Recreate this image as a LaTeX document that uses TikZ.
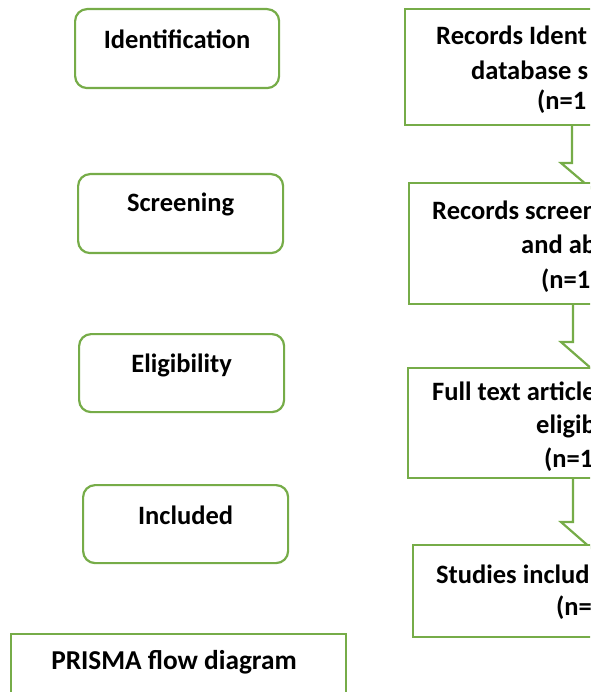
\documentclass[tikz,border=0pt]{standalone}
\usepackage{fontspec}
\setmainfont{Carlito}
\definecolor{boxgreen}{RGB}{118,172,72}
\begin{document}
\begin{tikzpicture}[x=1pt,y=-1pt,
  lbl/.style={font=\fontsize{26.5}{30}\selectfont\bfseries, inner sep=0pt, text=black},
  stagebox/.style={draw=boxgreen, line width=2.2pt, rounded corners=12pt, fill=white, inner sep=0pt, anchor=north west},
  flowbox/.style={draw=boxgreen, line width=2.2pt, fill=white, inner sep=0pt, anchor=north west},
  blockarrow/.style={draw=boxgreen, line width=2.2pt, fill=white, line join=miter}
]
\useasboundingbox (0,0) rectangle (590,692);
\clip (0,0) rectangle (590,692);

% left stage boxes
\node[stagebox, minimum width=204pt, minimum height=79pt] (sId) at (74,8) {};
\node[stagebox, minimum width=205pt, minimum height=79pt] (sSc) at (77,173) {};
\node[stagebox, minimum width=205pt, minimum height=78pt] (sEl) at (78,333) {};
\node[stagebox, minimum width=205pt, minimum height=78pt] (sIn) at (82,484) {};
\node[lbl, anchor=base] (tId) at ([yshift=-41pt]sId.north) {Identification};
\node[lbl, anchor=base] (tSc) at ([yshift=-39pt]sSc.north) {Screening};
\node[lbl, anchor=base] (tEl) at ([yshift=-39pt]sEl.north) {Eligibility};
\node[lbl, anchor=base] (tIn) at ([yshift=-40pt]sIn.north) {Included};

% PRISMA label box
\node[flowbox, minimum width=335pt, minimum height=80pt] (pr) at (10,633) {};
\node[lbl, anchor=base, font=\fontsize{27.3}{30}\selectfont\bfseries] (tPr) at (174,669) {PRISMA flow diagram};

% block arrows (drawn behind the right boxes)
\coordinate (a1) at (572,120);
\draw[blockarrow] (a1) -- (572,163) -- (561,163) -- (601,197) -- (641,163) -- (630,163) -- (630,120);
\coordinate (a2) at (573,299);
\draw[blockarrow] (a2) -- (573,342) -- (561,342) -- (601,377) -- (641,342) -- (630,342) -- (630,299);
\coordinate (a3) at (573,473);
\draw[blockarrow] (a3) -- (573,522) -- (561,522) -- (601,557) -- (641,522) -- (630,522) -- (630,473);

% right flow boxes
\node[flowbox, minimum width=300pt, minimum height=116pt] (b1) at (404,8) {};
\node[flowbox, minimum width=300pt, minimum height=121pt] (b2) at (408,182) {};
\node[flowbox, minimum width=300pt, minimum height=110pt] (b3) at (407,367) {};
\node[flowbox, minimum width=300pt, minimum height=92pt] (b4) at (412,544) {};

% right box texts (cut at the picture edge)
\node[lbl, anchor=base west] (b1l1) at (436,45) {Records Ident};
\node[lbl, anchor=base west] (b1l2) at (471,80) {database s};
\node[lbl, anchor=base west] (b1l3) at (537,110) {(n=1};
\node[lbl, anchor=base west] (b2l1) at (432,220) {Records screen};
\node[lbl, anchor=base west] (b2l2) at (521,254) {and ab};
\node[lbl, anchor=base west] (b2l3) at (541,288) {(n=1};
\node[lbl, anchor=base west] (b3l1) at (432,400) {Full text article};
\node[lbl, anchor=base west] (b3l2) at (536,433) {eligib};
\node[lbl, anchor=base west] (b3l3) at (544,467) {(n=1};
\node[lbl, anchor=base west] (b4l1) at (436,583) {Studies includ};
\node[lbl, anchor=base west] (b4l2) at (556,615) {(n=};
\end{tikzpicture}
\end{document}
